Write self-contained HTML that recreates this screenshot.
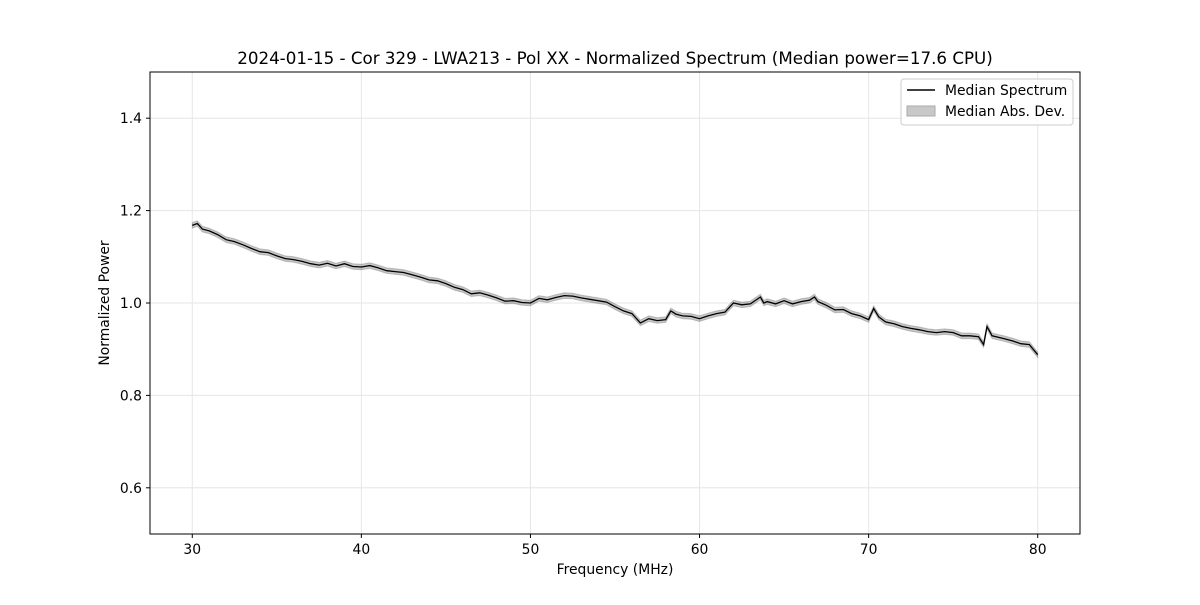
<!DOCTYPE html>
<html><head><meta charset="utf-8">
<style>
body{margin:0;background:#fff;font-family:"Liberation Sans","DejaVu Sans",sans-serif;}
svg text{font-family:"DejaVu Sans","Liberation Sans",sans-serif;}
</style></head>
<body>
<svg id="chart" width="1200" height="600" viewBox="0 0 1200 600">
<rect width="1200" height="600" fill="#fff"/>
<g id="grid"></g>
<path id="band" fill="#000" fill-opacity="0.22" stroke="#555" stroke-opacity="0.3" stroke-width="1"/>
<path id="line" fill="none" stroke="#000" stroke-width="1.3"/>
<rect x="150" y="72" width="930" height="462" fill="none" stroke="#000" stroke-width="1"/>
<g id="axes"></g>
<text x="615" y="64" text-anchor="middle" font-size="16.7">2024-01-15 - Cor 329 - LWA213 - Pol XX - Normalized Spectrum (Median power=17.6 CPU)</text>
<text x="615" y="574" text-anchor="middle" font-size="13.9">Frequency (MHz)</text>
<text transform="translate(109,303) rotate(-90)" text-anchor="middle" font-size="13.9">Normalized Power</text>
<g>
<rect x="901" y="79" width="172" height="46" rx="3" fill="#fff" fill-opacity="0.8" stroke="#ccc"/>
<line x1="907" y1="90" x2="935" y2="90" stroke="#000" stroke-width="1.5"/>
<text x="945" y="95" font-size="13.9">Median Spectrum</text>
<rect x="907" y="106" width="28" height="10" fill="#c8c8c8" stroke="#aaa"/>
<text x="945" y="116" font-size="13.9">Median Abs. Dev.</text>
</g>
</svg>
<script>
const freqs=[30,30.3,30.6,31,31.5,32,32.5,33,33.5,34,34.5,35,35.5,36,36.5,37,37.5,38,38.5,39,39.5,40,40.5,41,41.5,42,42.5,43,43.5,44,44.5,45,45.5,46,46.5,47,47.5,48,48.5,49,49.5,50,50.5,51,51.5,52,52.5,53,53.5,54,54.5,55,55.5,56,56.5,57,57.5,58,58.3,58.6,59,59.5,60,60.5,61,61.5,61.8,62,62.5,63,63.6,63.8,64,64.5,65,65.5,66,66.5,66.8,67,67.5,68,68.5,69,69.5,70,70.3,70.6,71,71.5,72,72.5,73,73.5,74,74.5,75,75.5,76,76.5,76.8,77,77.3,78,78.5,79,79.5,80];
const median=[1.168,1.172,1.160,1.156,1.148,1.137,1.133,1.126,1.118,1.111,1.109,1.102,1.096,1.094,1.090,1.085,1.082,1.086,1.080,1.085,1.079,1.078,1.081,1.076,1.070,1.068,1.066,1.061,1.056,1.050,1.048,1.042,1.034,1.029,1.020,1.022,1.017,1.011,1.004,1.005,1.001,1.000,1.010,1.007,1.012,1.016,1.015,1.011,1.008,1.005,1.002,0.992,0.983,0.977,0.957,0.966,0.962,0.964,0.983,0.976,0.972,0.971,0.966,0.972,0.977,0.980,0.992,1.000,0.996,0.998,1.013,1.000,1.003,0.998,1.005,0.998,1.003,1.006,1.013,1.003,0.995,0.985,0.986,0.977,0.972,0.964,0.988,0.970,0.959,0.955,0.949,0.945,0.942,0.938,0.936,0.938,0.936,0.929,0.929,0.927,0.910,0.949,0.929,0.923,0.918,0.912,0.910,0.888];
const mad=0.006;
const xTicks=[30,40,50,60,70,80];
const yTicks=[0.6,0.8,1.0,1.2,1.4];
const X=v=>150+(v-27.5)/55*930;
const Y=v=>534-(v-0.5)/1.0*462;
const ns="http://www.w3.org/2000/svg";
const grid=document.getElementById('grid'),axes=document.getElementById('axes');
function mk(tag,attrs,parent){const e=document.createElementNS(ns,tag);for(const k in attrs)e.setAttribute(k,attrs[k]);parent.appendChild(e);return e;}
xTicks.forEach(t=>{
 const g=mk('line',{x1:X(t),x2:X(t),y1:72,y2:534,stroke:'#e6e6e6'},grid);
 
 
 const tk=mk('line',{x1:X(t),x2:X(t),y1:534,y2:538,stroke:'#000'},axes);
 
 
 const tx=mk('text',{x:X(t),y:554,'text-anchor':'middle','font-size':13.9},axes);
 tx.textContent=t;
 
 
});
yTicks.forEach(t=>{
 const g=mk('line',{x1:150,x2:1080,y1:Y(t),y2:Y(t),stroke:'#e6e6e6'},grid);
 
 
 const tk=mk('line',{x1:146,x2:150,y1:Y(t),y2:Y(t),stroke:'#000'},axes);
 
 
 const tx=mk('text',{x:142,y:Y(t)+5,'text-anchor':'end','font-size':13.9},axes);
 tx.textContent=t.toFixed(1);
 
 
});
let d='';freqs.forEach((f,i)=>{d+=(i?'L':'M')+X(f).toFixed(1)+' '+Y(median[i]).toFixed(1);});
document.getElementById('line').setAttribute('d',d);
let b='';freqs.forEach((f,i)=>{b+=(i?'L':'M')+X(f).toFixed(1)+' '+Y(median[i]+mad).toFixed(1);});
for(let i=freqs.length-1;i>=0;i--){b+='L'+X(freqs[i]).toFixed(1)+' '+Y(median[i]-mad).toFixed(1);}
document.getElementById('band').setAttribute('d',b+'Z');
</script>
</body></html>
